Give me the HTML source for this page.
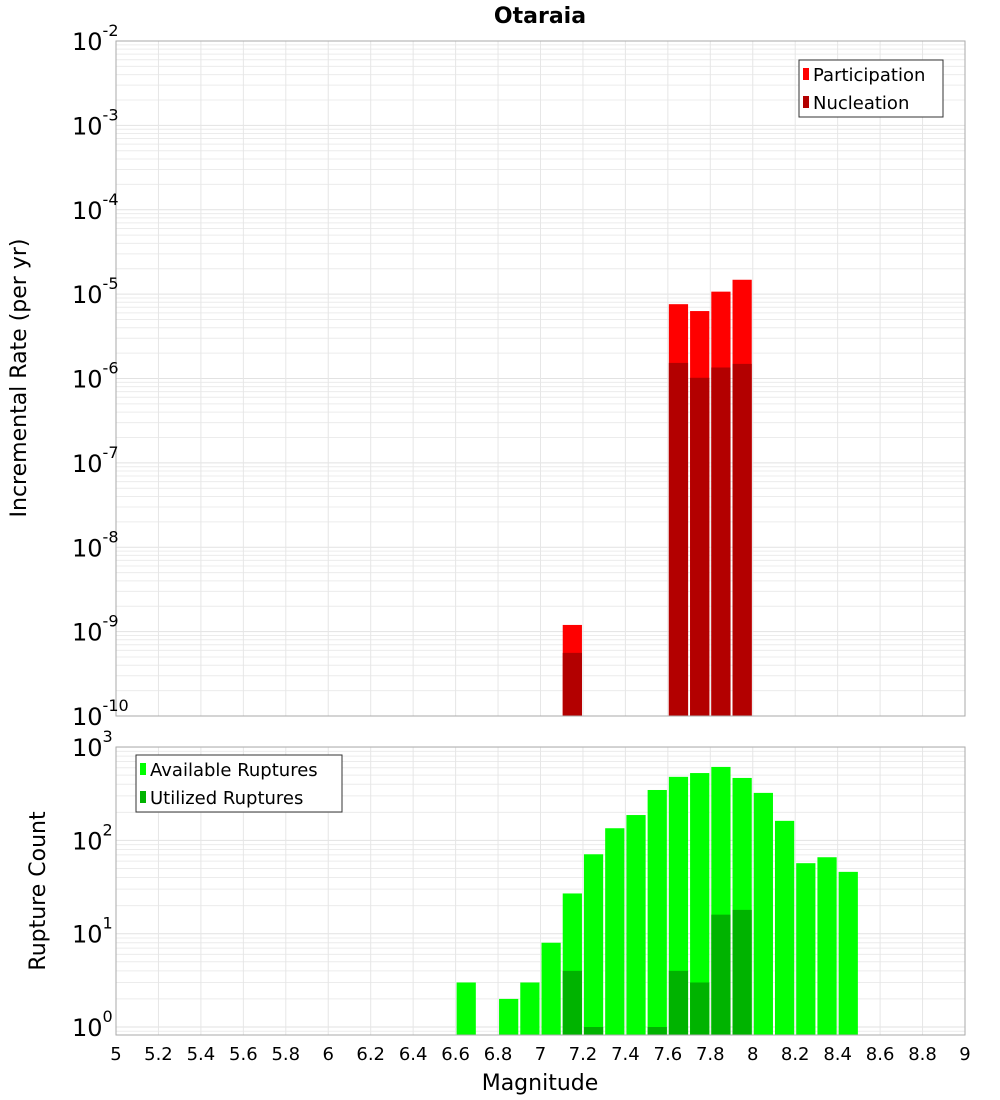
<!DOCTYPE html>
<html><head><meta charset="utf-8"><style>
body{margin:0;background:#fff;}
svg{display:block;font-family:"Liberation Sans","DejaVu Sans",sans-serif;}
</style></head><body>
<svg id="c" width="1000" height="1100" xmlns="http://www.w3.org/2000/svg">
<text x="540" y="23" text-anchor="middle" font-size="22" font-weight="bold" font-family="DejaVu Sans, sans-serif">Otaraia</text>
<g id="topPlot"></g>
<g id="botPlot"></g>
</svg>
<script>
const rateMags=[7.15,7.65,7.75,7.85,7.95];
const participation=[1.2e-9,7.6e-6,6.3e-6,1.07e-5,1.48e-5];
const nucleation=[5.6e-10,1.53e-6,1.02e-6,1.35e-6,1.49e-6];
const countMags=[6.65,6.85,6.95,7.05,7.15,7.25,7.35,7.45,7.55,7.65,7.75,7.85,7.95,8.05,8.15,8.25,8.35,8.45];
const available=[3,2,3,8,27,71,135,187,347,480,527,613,467,323,162,57,66,46];
const utilMags=[7.15,7.25,7.55,7.65,7.75,7.85,7.95];
const utilized=[4,1,1,4,3,16,18];
const xTicks=[5,5.2,5.4,5.6,5.8,6,6.2,6.4,6.6,6.8,7,7.2,7.4,7.6,7.8,8,8.2,8.4,8.6,8.8,9];
const topExps=[-2,-3,-4,-5,-6,-7,-8,-9,-10];
const botExps=[3,2,1,0];

const NS="http://www.w3.org/2000/svg";
function mk(p,t,a){const e=document.createElementNS(NS,t);for(const k in a)e.setAttribute(k,a[k]);p.appendChild(e);return e;}
const X0=116,X1=965;
const xs=m=>X0+(m-5)/4*(X1-X0);
const T0=41,T1=716; const ty=v=>T0+(-2-Math.log10(v))*(T1-T0)/8;
const B0=747,B1=1035; const D=93.3; const by=v=>1027-Math.log10(v)*D;
const gTop=document.getElementById('topPlot'),gBot=document.getElementById('botPlot');

function grid(g,y0,y1,yf,lo,hi){
  for(let e=lo;e<hi;e++)for(let k=1;k<10;k++){const y=yf(k*Math.pow(10,e));if(y<y0-0.5||y>y1+0.5)continue;
    const l=mk(g,'line',{x1:X0,x2:X1,y1:y,y2:y,stroke:k==1?'#e2e2e2':'#ececec','stroke-width':1});
    
    }
  xTicks.forEach(t=>{const l=mk(g,'line',{x1:xs(t),x2:xs(t),y1:y0,y2:y1,stroke:'#e6e6e6'});
    
    });
}
grid(gTop,T0,T1,ty,-10,-1);
grid(gBot,B0,B1,by,-1,4);

function bar(g,m,y,ybase,fill,name){
  const x=xs(m-0.05)+1,w=xs(m+0.05)-xs(m-0.05)-2;
  const r=mk(g,'rect',{x:x,y:y,width:w,height:Math.max(0,ybase-y),fill:fill});
  
  
}
rateMags.forEach((m,i)=>bar(gTop,m,ty(participation[i]),T1,'#ff0000','participation-bar'));
rateMags.forEach((m,i)=>bar(gTop,m,ty(nucleation[i]),T1,'#b30000','nucleation-bar'));
countMags.forEach((m,i)=>bar(gBot,m,by(available[i]),B1,'#00ff00','available-bar'));
utilMags.forEach((m,i)=>bar(gBot,m,by(utilized[i]),B1,'#00b300','utilized-bar'));

[[gTop,T0,T1],[gBot,B0,B1]].forEach(([g,a,b])=>{const r=mk(g,'rect',{x:X0,y:a,width:X1-X0,height:b-a,fill:'none',stroke:'#aaaaaa'});
  
  });

function ylab(g,y,e){const t=mk(g,'text',{x:72,y:y+9,'text-anchor':'start','font-size':24,'font-family':'DejaVu Sans, sans-serif'});
  
  
  t.textContent='10';const s=mk(t,'tspan',{dy:-14,'font-size':16});s.textContent=String(e);}
topExps.forEach(e=>ylab(gTop,ty(Math.pow(10,e)),e));
botExps.forEach(e=>ylab(gBot,by(Math.pow(10,e)),e));

xTicks.forEach(t=>{const e=mk(gBot,'text',{x:xs(t),y:1060,'text-anchor':'middle','font-size':18,'font-family':'DejaVu Sans, sans-serif'});
  
  
  e.textContent=String(t);});
const xt=mk(gBot,'text',{x:540,y:1090,'text-anchor':'middle','font-size':22,'font-family':'DejaVu Sans, sans-serif'});


xt.textContent='Magnitude';
const yt=mk(gTop,'text',{x:0,y:0,'text-anchor':'middle','font-size':22,'font-family':'DejaVu Sans, sans-serif',transform:'translate(26,378) rotate(-90)'});


yt.textContent='Incremental Rate (per yr)';
const yt2=mk(gBot,'text',{x:0,y:0,'text-anchor':'middle','font-size':22,'font-family':'DejaVu Sans, sans-serif',transform:'translate(45,891) rotate(-90)'});


yt2.textContent='Rupture Count';

function legend(g,x,y,w,items){
  const lg=mk(g,'g',{});
  
  
  mk(lg,'rect',{x:x,y:y,width:w,height:57,fill:'#fff',stroke:'#333'});
  items.forEach((it,i)=>{const yy=y+14+i*28;
    const sw=mk(lg,'rect',{x:x+4,y:yy-6,width:6,height:12,fill:it[1]});
    
    
    const t=mk(lg,'text',{x:x+14,y:yy+7,'font-size':18,'font-family':'DejaVu Sans, sans-serif'});
    
    
    t.textContent=it[0];});
}
legend(gTop,799,60,144,[['Participation','#ff0000'],['Nucleation','#b30000']]);
legend(gBot,136,755,206,[['Available Ruptures','#00ff00'],['Utilized Ruptures','#00b300']]);
</script>
</body></html>
